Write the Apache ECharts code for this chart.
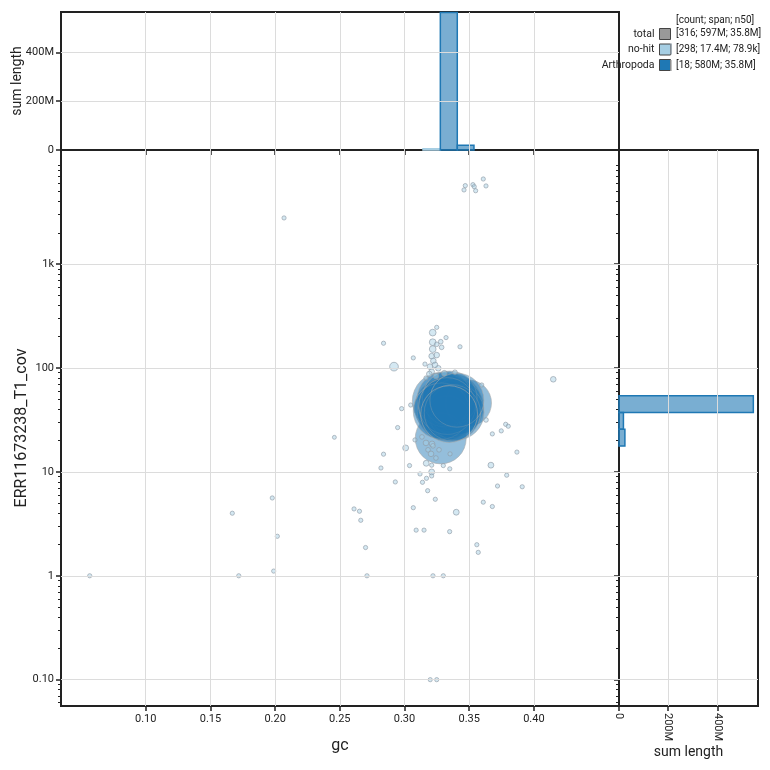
<!DOCTYPE html>
<html>
<head>
<meta charset="utf-8">
<script src="https://cdn.jsdelivr.net/npm/echarts@6/dist/echarts.min.js"></script>
<style>
  html, body { margin: 0; padding: 0; background: #fff; }
  #chart { width: 770px; height: 770px; }
</style>
</head>
<body>
<div id="chart"></div>
<script>
// axis ranges and ticks
const gcRange = [0.0345, 0.4658];
const covRange = [0.0558, 12530];
const histMax = 565e6;
const xTicks = [0.10, 0.15, 0.20, 0.25, 0.30, 0.35, 0.40];
const yTicks = [0.1, 1, 10, 100, 1000];
const histTicks = [0, 200e6, 400e6];

// legend
const legendNames = ['total', 'no-hit', 'Arthropoda'];
const legendColors = ['#999999', '#a6cee3', '#1f78b4'];
const legendCounts = [316, 298, 18];
const legendSpans = ['597M', '17.4M', '580M'];
const legendN50 = ['35.8M', '78.9k', '35.8M'];

// [gc, coverage, length]
const arthropoda = [
  [0.3280, 21, 26e6], [0.3495, 46, 19e6], [0.3330, 33, 17e6],
  [0.3280, 48, 36e6], [0.3295, 42, 35e6], [0.3320, 38, 37e6],
  [0.3340, 45, 34e6], [0.3360, 40, 36e6], [0.3380, 47, 33e6],
  [0.3395, 42, 35e6], [0.3400, 37.5, 34e6], [0.3310, 50, 33e6],
  [0.3350, 51, 32e6], [0.3285, 38.5, 35e6], [0.3330, 43, 36e6],
  [0.3370, 37, 35e6], [0.3405, 49, 31e6], [0.3345, 36, 36e6]
];

const noHit = [
  [0.3460, 5170, 15000], [0.3470, 5690, 15000], [0.3529, 5810, 15000],
  [0.3539, 5560, 15000], [0.3550, 5080, 15000], [0.3609, 6590, 15000],
  [0.3630, 5650, 15000], [0.2069, 2780, 15000],
  [0.3249, 246, 15000], [0.3218, 219, 60000], [0.3321, 196, 15000],
  [0.3429, 160, 15000], [0.2838, 173, 15000], [0.3218, 177, 60000],
  [0.3249, 169, 20000], [0.3280, 179, 20000], [0.3287, 158, 20000],
  [0.3218, 152, 60000], [0.3068, 125, 15000], [0.3158, 109, 15000],
  [0.2919, 103, 130000], [0.3210, 130, 35000], [0.3249, 133, 35000],
  [0.3223, 117, 35000], [0.3197, 103, 35000], [0.3236, 107, 35000],
  [0.3261, 99.3, 35000], [0.3210, 92, 35000], [0.3192, 87.5, 35000],
  [0.3390, 91, 20000], [0.3308, 89, 35000], [0.3243, 83.8, 35000],
  [0.3166, 80.1, 15000], [0.4150, 77.8, 35000], [0.3597, 68.6, 15000],
  [0.2978, 40.6, 15000], [0.3048, 44.0, 15000], [0.3630, 31.6, 20000],
  [0.3782, 28.7, 15000], [0.3802, 27.5, 15000], [0.2947, 26.7, 15000],
  [0.3748, 24.8, 15000], [0.3679, 23.2, 15000], [0.2458, 21.5, 12000],
  [0.3009, 17.0, 40000], [0.3869, 15.5, 15000], [0.2838, 14.8, 15000],
  [0.3352, 14.9, 15000],
  [0.3166, 19.0, 35000], [0.3213, 18.6, 35000], [0.3267, 16.3, 20000],
  [0.3205, 14.9, 35000], [0.3243, 13.6, 20000], [0.3182, 16.3, 20000],
  [0.3135, 21.7, 20000], [0.3220, 17.8, 20000], [0.3081, 20.3, 15000],
  [0.2818, 10.9, 15000], [0.3039, 11.5, 15000], [0.3168, 12.1, 40000],
  [0.3210, 11.6, 15000], [0.3300, 11.5, 15000], [0.3350, 10.7, 15000],
  [0.3668, 11.6, 40000], [0.3120, 9.55, 15000], [0.3210, 9.98, 40000],
  [0.3210, 9.14, 15000], [0.3170, 8.67, 15000], [0.3139, 7.94, 15000],
  [0.2929, 8.0, 15000], [0.3790, 9.29, 15000], [0.3719, 7.31, 15000],
  [0.3910, 7.19, 15000], [0.3179, 6.59, 15000], [0.3238, 5.45, 15000],
  [0.3609, 5.11, 15000], [0.3679, 4.64, 15000], [0.3068, 4.52, 15000],
  [0.3400, 4.09, 40000], [0.2610, 4.40, 15000], [0.2652, 4.18, 15000],
  [0.2662, 3.42, 15000], [0.3090, 2.75, 15000], [0.3151, 2.75, 15000],
  [0.3349, 2.66, 15000], [0.2699, 1.87, 15000], [0.3559, 1.99, 15000],
  [0.3570, 1.68, 15000], [0.1978, 5.61, 15000], [0.1669, 4.0, 15000],
  [0.2017, 2.40, 15000], [0.1989, 1.11, 15000], [0.0567, 1.0, 15000],
  [0.1719, 1.0, 15000], [0.2710, 1.0, 15000], [0.3220, 1.0, 15000],
  [0.3300, 1.0, 15000], [0.3199, 0.1, 15000], [0.3249, 0.1, 15000]
];

// histogram bins: [from, to, sum length]
const gcHistNoHit = [[0.3143, 0.3277, 5e6]];
const gcHistArth = [[0.3277, 0.3408, 563e6], [0.3408, 0.3537, 19e6]];
const covHistArth = [[17.7, 25.7, 24e6], [25.7, 37.2, 18e6], [37.2, 54.1, 546e6]];

const yMinor = [];
for (let e = -2; e <= 4; e++) {
  for (let k = 2; k <= 9; k++) {
    const v = +(k * Math.pow(10, e)).toPrecision(3);
    if (v > covRange[0] && v < covRange[1]) yMinor.push(v);
  }
}

const font = 'Roboto';
const ink = '#222';
const gridLine = { color: '#dcdcdc', width: 1, type: 'solid' };
const tickStyle = { color: ink, width: 1.5 };

const covLabel = v => v >= 1000 ? (v / 1000) + 'k' : (v < 1 ? v.toFixed(2) : String(v));
const lenLabel = v => v === 0 ? '0' : (v / 1e6) + 'M';
const sizeOf = v => Math.max(3.6, 0.172 * Math.cbrt(v[2]));

function lines(xi, yi, xs, ys) {
  return {
    type: 'line', xAxisIndex: xi, yAxisIndex: yi, data: [], z: 1, silent: true,
    markLine: {
      silent: true, symbol: ['none', 'none'], label: { show: false },
      lineStyle: gridLine, animation: false, emphasis: { disabled: true },
      data: xs.map(v => ({ xAxis: v })).concat(ys.map(v => ({ yAxis: v })))
    }
  };
}

function gcBar(fill, stroke) {
  return function (params, api) {
    const a = api.coord([api.value(0), 0]);
    const b = api.coord([api.value(1), api.value(2)]);
    return {
      type: 'rect',
      shape: { x: a[0], y: b[1], width: b[0] - a[0], height: a[1] - b[1] },
      style: { fill: fill, stroke: stroke, lineWidth: 1.5 }
    };
  };
}

function covBar(fill, stroke) {
  return function (params, api) {
    const a = api.coord([0, api.value(0)]);
    const b = api.coord([api.value(2), api.value(1)]);
    return {
      type: 'rect',
      shape: { x: a[0], y: b[1], width: b[0] - a[0], height: a[1] - b[1] },
      style: { fill: fill, stroke: stroke, lineWidth: 1.5 }
    };
  };
}

const chart = echarts.init(document.getElementById('chart'));

const gridBase = { show: true, borderColor: ink, borderWidth: 2, containLabel: false, outerBoundsMode: 'none' };

chart.setOption({
  animation: false,
  textStyle: { fontFamily: font },
  title: {
    text: '[count; span; n50]', left: 676, top: 15, padding: 0,
    textStyle: { fontSize: 10, fontWeight: 'normal', color: ink, fontFamily: font }
  },
  legend: [
    {
      data: legendNames.map((n, i) => ({
        name: n, itemStyle: { color: legendColors[i], opacity: 1, borderColor: '#444', borderWidth: 1 }
      })),
      orient: 'vertical', right: 99, top: 28, align: 'right', padding: 0,
      icon: 'rect', itemWidth: 11, itemHeight: 11, itemGap: 3.5, selectedMode: false,
      textStyle: { fontSize: 10.5, color: ink, fontFamily: font }
    },
    {
      data: legendNames,
      orient: 'vertical', left: 670, top: 28, padding: 0,
      icon: 'rect', itemWidth: 0, itemHeight: 11, itemGap: 3.5, selectedMode: false,
      formatter: name => {
        const i = legendNames.indexOf(name);
        return '[' + legendCounts[i] + '; ' + legendSpans[i] + '; ' + legendN50[i] + ']';
      },
      textStyle: { fontSize: 10, color: ink, fontFamily: font }
    }
  ],
  grid: [
    Object.assign({ left: 61, top: 150, width: 558, height: 556 }, gridBase),
    Object.assign({ left: 61, top: 12, width: 558, height: 138 }, gridBase),
    Object.assign({ left: 619, top: 150, width: 139, height: 556 }, gridBase)
  ],
  xAxis: [
    {
      gridIndex: 0, type: 'value', min: gcRange[0], max: gcRange[1],
      axisLine: { show: false }, splitLine: { show: false },
      axisTick: { customValues: xTicks, length: 5, lineStyle: tickStyle },
      axisLabel: { customValues: xTicks, formatter: v => v.toFixed(2), fontSize: 11, color: ink, margin: 8 },
      name: 'gc', nameLocation: 'middle', nameGap: 32, nameMoveOverlap: false,
      nameTextStyle: { fontSize: 16, color: ink, fontFamily: font }
    },
    {
      gridIndex: 1, type: 'value', min: gcRange[0], max: gcRange[1], position: 'bottom',
      axisLine: { show: false }, splitLine: { show: false },
      axisTick: { customValues: xTicks, length: 5, lineStyle: tickStyle },
      axisLabel: { show: false }
    },
    {
      gridIndex: 2, type: 'value', min: 0, max: histMax,
      axisLine: { show: false }, splitLine: { show: false },
      axisTick: { customValues: histTicks, length: 5, lineStyle: tickStyle },
      axisLabel: { customValues: histTicks, formatter: lenLabel, rotate: -90, fontSize: 11, color: ink, margin: 7 },
      name: 'sum length', nameLocation: 'middle', nameGap: 39, nameMoveOverlap: false,
      nameTextStyle: { fontSize: 14, color: ink, fontFamily: font }
    }
  ],
  yAxis: [
    {
      gridIndex: 0, type: 'log', logBase: 10, min: covRange[0], max: covRange[1], position: 'left',
      axisLine: { show: false }, splitLine: { show: false },
      axisTick: { customValues: yTicks, length: 5, lineStyle: tickStyle },
      axisLabel: { customValues: yTicks, formatter: covLabel, fontSize: 11, color: ink, margin: 7 },
      name: 'ERR11673238_T1_cov', nameLocation: 'middle', nameGap: 31, nameMoveOverlap: false,
      nameTextStyle: { fontSize: 16, color: ink, fontFamily: font }
    },
    {
      gridIndex: 1, type: 'value', min: 0, max: histMax,
      axisLine: { show: false }, splitLine: { show: false },
      axisTick: { customValues: histTicks, length: 5, lineStyle: tickStyle },
      axisLabel: { customValues: histTicks, formatter: lenLabel, fontSize: 11, color: ink, margin: 7 },
      name: 'sum length', nameLocation: 'middle', nameGap: 37, nameMoveOverlap: false,
      nameTextStyle: { fontSize: 14, color: ink, fontFamily: font }
    },
    {
      gridIndex: 2, type: 'log', logBase: 10, min: covRange[0], max: covRange[1], position: 'left',
      axisLine: { show: false }, splitLine: { show: false },
      axisTick: { customValues: yTicks, length: 5, lineStyle: tickStyle },
      axisLabel: { show: false }
    },
    {
      gridIndex: 0, type: 'log', logBase: 10, min: covRange[0], max: covRange[1], position: 'left',
      axisLine: { show: false }, splitLine: { show: false },
      axisTick: { customValues: yMinor, length: 3, lineStyle: { color: ink, width: 1 } },
      axisLabel: { show: false }
    },
    {
      gridIndex: 2, type: 'log', logBase: 10, min: covRange[0], max: covRange[1], position: 'left',
      axisLine: { show: false }, splitLine: { show: false },
      axisTick: { customValues: yMinor, length: 3, lineStyle: { color: ink, width: 1 } },
      axisLabel: { show: false }
    }
  ],
  series: [
    lines(0, 0, xTicks, yTicks),
    lines(1, 1, xTicks, histTicks.slice(1)),
    lines(2, 2, histTicks.slice(1), yTicks),
    { name: 'total', type: 'scatter', xAxisIndex: 0, yAxisIndex: 0, data: [], itemStyle: { color: '#999999' } },
    {
      name: 'Arthropoda', type: 'scatter', xAxisIndex: 0, yAxisIndex: 0, z: 2,
      data: arthropoda, symbolSize: sizeOf,
      itemStyle: { color: 'rgba(31,120,180,0.6)', borderColor: 'rgba(170,170,170,0.9)', borderWidth: 0.8 }
    },
    {
      name: 'no-hit', type: 'scatter', xAxisIndex: 0, yAxisIndex: 0, z: 3,
      data: noHit, symbolSize: sizeOf,
      itemStyle: { color: 'rgba(166,206,227,0.6)', borderColor: '#8f9ba5', borderWidth: 0.8 }
    },
    {
      name: 'gc-hist-nohit', type: 'custom', xAxisIndex: 1, yAxisIndex: 1, z: 2,
      data: gcHistNoHit, renderItem: gcBar('rgba(166,206,227,0.6)', '#a6cee3')
    },
    {
      name: 'gc-hist-arth', type: 'custom', xAxisIndex: 1, yAxisIndex: 1, z: 3,
      data: gcHistArth, renderItem: gcBar('rgba(31,120,180,0.6)', '#1f78b4')
    },
    {
      name: 'cov-hist-arth', type: 'custom', xAxisIndex: 2, yAxisIndex: 2, z: 3,
      data: covHistArth, renderItem: covBar('rgba(31,120,180,0.6)', '#1f78b4')
    }
  ]
});
</script>
</body>
</html>
